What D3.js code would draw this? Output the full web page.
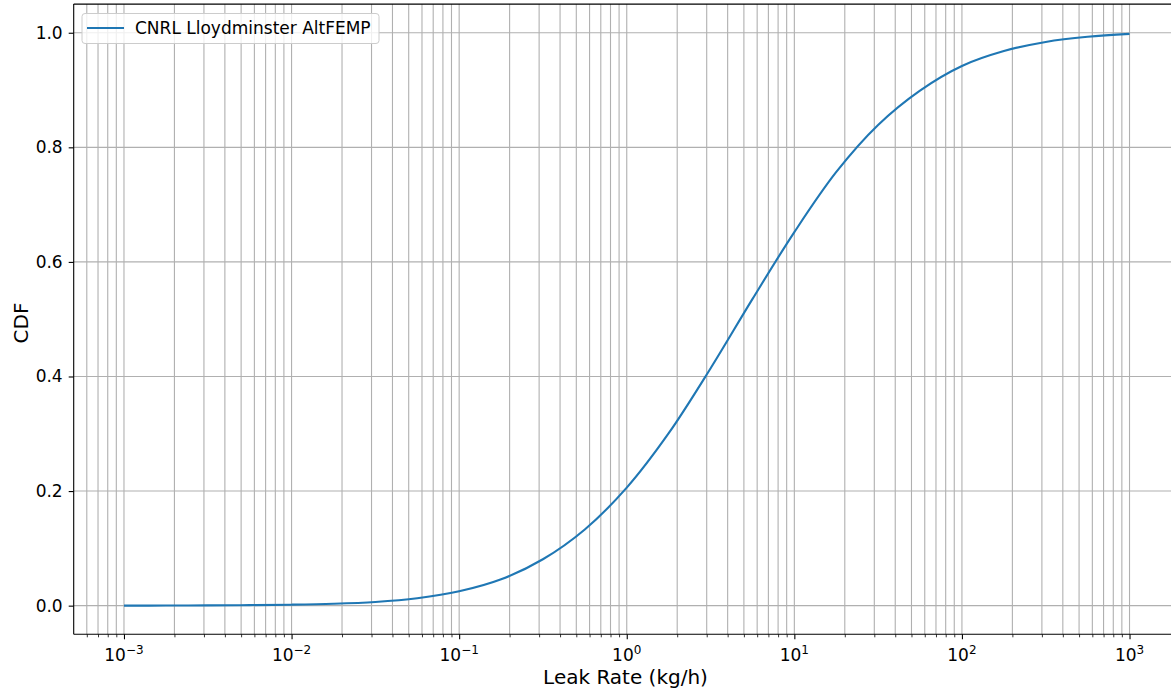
<!DOCTYPE html>
<html>
<head>
<meta charset="utf-8">
<script src="https://cdn.jsdelivr.net/npm/d3@7"></script>
<style>
  body { margin: 0; background: #fff; }
  svg { display: block; font-family: 'DejaVu Sans', sans-serif; }
</style>
</head>
<body>
<main></main>
<script>
// values (quarter-decade steps)
const seriesName = 'CNRL Lloydminster AltFEMP'
const leakRates = [0.001, 0.00178, 0.00316, 0.00562, 0.01, 0.0178, 0.0316, 0.0562,
  0.1, 0.178, 0.316, 0.562, 1, 1.78, 3.16, 5.62, 10, 17.8, 31.6, 56.2, 100, 178, 316, 562, 1000]
const cdfValues = [0.0, 0.0002, 0.0005, 0.0009, 0.0017, 0.0033, 0.0065, 0.013,
  0.025, 0.046, 0.081, 0.133, 0.206, 0.301, 0.414, 0.535, 0.652, 0.757, 0.839, 0.899, 0.942, 0.968, 0.984, 0.993, 0.998]
const yTicks = [0.0, 0.2, 0.4, 0.6, 0.8, 1.0]
const xDecades = [-3, -2, -1, 0, 1, 2, 3]

const width = 1171
const height = 689
const plot = { left: 73.7, right: 1179.8, top: 4.1, bottom: 634.3 }

const svg = d3.select('main')
  .append('svg')
  .attr('width', width)
  .attr('height', height)

const xScale = d3.scaleLog()
  .domain([Math.pow(10, -3.3), Math.pow(10, 3.3)])
  .range([plot.left, plot.right])

const yScale = d3.scaleLinear()
  .domain([-0.05, 1.05])
  .range([plot.bottom, plot.top])

// minor + major positions on the log axis
const minorTicks = []
for (let e = -4; e <= 3; e++) {
  for (let m = 2; m <= 9; m++) {
    const v = m * Math.pow(10, e)
    if (v > xScale.domain()[0] && v < xScale.domain()[1]) minorTicks.push(v)
  }
}
const majorTicks = xDecades.map(e => Math.pow(10, e))

const grid = svg.append('g').attr('class', 'grid')
grid.selectAll('line.vx')
  .data(majorTicks.concat(minorTicks))
  .enter()
  .append('line')
  .attr('x1', d => xScale(d))
  .attr('x2', d => xScale(d))
  .attr('y1', plot.top)
  .attr('y2', plot.bottom)
  .attr('stroke', '#b0b0b0')
  .attr('stroke-width', 1.1)

grid.selectAll('line.hy')
  .data(yTicks)
  .enter()
  .append('line')
  .attr('x1', plot.left)
  .attr('x2', plot.right)
  .attr('y1', d => yScale(d))
  .attr('y2', d => yScale(d))
  .attr('stroke', '#b0b0b0')
  .attr('stroke-width', 1.1)

// the curve
const line = d3.line()
  .x((d, i) => xScale(leakRates[i]))
  .y(d => yScale(d))
  .curve(d3.curveCatmullRom.alpha(0.5))

svg.append('path')
  .datum(cdfValues)
  .attr('d', line)
  .attr('fill', 'none')
  .attr('stroke', '#1f77b4')
  .attr('stroke-width', 2.1)

// x axis
const xAxis = svg.append('g')
  .attr('transform', `translate(0, ${plot.bottom})`)
  .call(d3.axisBottom(xScale).tickValues(majorTicks).tickSize(5).tickFormat(''))
xAxis.select('.domain').remove()
xAxis.selectAll('.tick line').attr('stroke', '#000').attr('stroke-width', 1.1)

const xMinor = svg.append('g')
  .attr('transform', `translate(0, ${plot.bottom})`)
  .call(d3.axisBottom(xScale).tickValues(minorTicks).tickSize(3).tickFormat(''))
xMinor.select('.domain').remove()
xMinor.selectAll('.tick line').attr('stroke', '#000').attr('stroke-width', 0.8)

const xLabels = svg.append('g')
xDecades.forEach(e => {
  const t = xLabels.append('text')
    .attr('x', xScale(Math.pow(10, e)))
    .attr('y', 660.5)
    .attr('text-anchor', 'middle')
    .attr('font-size', 17)
    .attr('fill', '#000')
  t.append('tspan').text('10')
  t.append('tspan')
    .attr('dy', -7)
    .attr('font-size', 12)
    .text(e < 0 ? '\u2212' + (-e) : String(e))
})

// y axis
const yAxis = svg.append('g')
  .attr('transform', `translate(${plot.left}, 0)`)
  .call(d3.axisLeft(yScale).tickValues(yTicks).tickSize(5).tickPadding(6).tickFormat(d3.format('.1f')))
yAxis.select('.domain').remove()
yAxis.selectAll('.tick line').attr('stroke', '#000').attr('stroke-width', 1.1)
yAxis.selectAll('.tick text')
  .attr('font-size', 17)
  .attr('font-family', 'DejaVu Sans')
  .attr('fill', '#000')

// spines
svg.append('line').attr('x1', plot.left).attr('x2', plot.left).attr('y1', plot.top).attr('y2', plot.bottom)
  .attr('stroke', '#000').attr('stroke-width', 1.1)
svg.append('line').attr('x1', plot.left).attr('x2', plot.right).attr('y1', plot.bottom).attr('y2', plot.bottom)
  .attr('stroke', '#000').attr('stroke-width', 1.1)
svg.append('line').attr('x1', plot.left).attr('x2', plot.right).attr('y1', plot.top).attr('y2', plot.top)
  .attr('stroke', '#000').attr('stroke-width', 1.1)

// axis titles
svg.append('text')
  .attr('x', 625.5)
  .attr('y', 684)
  .attr('text-anchor', 'middle')
  .attr('font-size', 20)
  .text('Leak Rate (kg/h)')

svg.append('text')
  .attr('transform', 'translate(27.5, 323) rotate(-90)')
  .attr('text-anchor', 'middle')
  .attr('font-size', 20)
  .text('CDF')

// legend
const legend = svg.append('g')
legend.append('rect')
  .attr('x', 82)
  .attr('y', 13.5)
  .attr('width', 297)
  .attr('height', 30)
  .attr('rx', 3)
  .attr('fill', 'rgba(255,255,255,0.8)')
  .attr('stroke', '#cccccc')
  .attr('stroke-width', 1)
legend.append('line')
  .attr('x1', 87).attr('x2', 124)
  .attr('y1', 28).attr('y2', 28)
  .attr('stroke', '#1f77b4')
  .attr('stroke-width', 2.1)
legend.append('text')
  .attr('x', 135)
  .attr('y', 34)
  .attr('font-size', 17)
  .text(seriesName)
</script>
</body>
</html>
